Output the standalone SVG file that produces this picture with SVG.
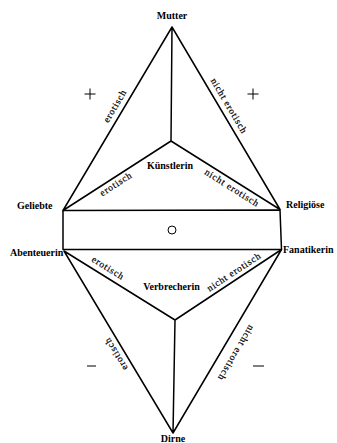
<svg xmlns="http://www.w3.org/2000/svg" width="337" height="443" viewBox="0 0 337 443">
<style>
.ln{stroke:#000;stroke-width:1.5;fill:none;stroke-linecap:round;stroke-linejoin:round}
.nd{font-family:"Liberation Serif","Times New Roman",serif;font-weight:bold;font-size:10px;fill:#000}
.lb{font-family:"Liberation Serif","Times New Roman",serif;font-size:9.5px;letter-spacing:0.8px;fill:#000;stroke:#000;stroke-width:0.2;text-anchor:middle}
.sg{stroke:#000;stroke-width:1;fill:none}
</style>
<rect width="337" height="443" fill="#fff"/>
<g id="connectors">
<path class="ln" d="M172 27 L63 210.5 M172 27 L280 209.5 M172 27 L171 141 M63 210.5 L171 141 M280 209.5 L171 141"/>
<path class="ln" d="M63 210.5 L280 210 L281.5 249.5 L63 249.5 Z"/>
<path class="ln" d="M64 251 L175 320 M281.5 249.5 L175 320 M175 320 L173 433 M64 251 L173 433 M281.5 249.5 L173 433"/>
<g id="labels">
<text class="lb" transform="translate(115,106) rotate(-59.4)" y="3">erotisch</text>
<text class="lb" transform="translate(229,106) rotate(59.5)" y="3">nicht erotisch</text>
<text class="lb" transform="translate(116,184) rotate(-32.9)" y="3">erotisch</text>
<text class="lb" transform="translate(232,188) rotate(32.3)" y="3">nicht erotisch</text>
<text class="lb" transform="translate(108,268) rotate(31.9)" y="3">erotisch</text>
<text class="lb" transform="translate(234,272) rotate(-33.4)" y="3">nicht erotisch</text>
<text class="lb" transform="translate(116,354) rotate(-121)" y="3">erotisch</text>
<text class="lb" transform="translate(236,353) rotate(120.5)" y="3">nicht erotisch</text>
</g>
</g>
<g id="Mutter"><text class="nd" x="172" y="19" text-anchor="middle">Mutter</text></g>
<g id="Geliebte"><text class="nd" x="17" y="209">Geliebte</text></g>
<g id="Religioese"><text class="nd" x="286" y="208">Religiöse</text></g>
<g id="Kuenstlerin"><text class="nd" x="170" y="169" text-anchor="middle">Künstlerin</text></g>
<g id="Abenteuerin"><text class="nd" x="10" y="255.5">Abenteuerin</text></g>
<g id="Fanatikerin"><text class="nd" x="283" y="253">Fanatikerin</text></g>
<g id="Verbrecherin"><text class="nd" x="171.5" y="290" text-anchor="middle">Verbrecherin</text></g>
<g id="Dirne"><text class="nd" x="173" y="442" text-anchor="middle">Dirne</text></g>
<g id="signs">
<circle class="sg" cx="172" cy="230" r="4"/>
<path class="sg" d="M84.5 94 H95.5 M90 88.5 V99.5 M247.5 94 H258.5 M253 88.5 V99.5 M87 366 H96 M253 366 H264"/>
</g>
</svg>
